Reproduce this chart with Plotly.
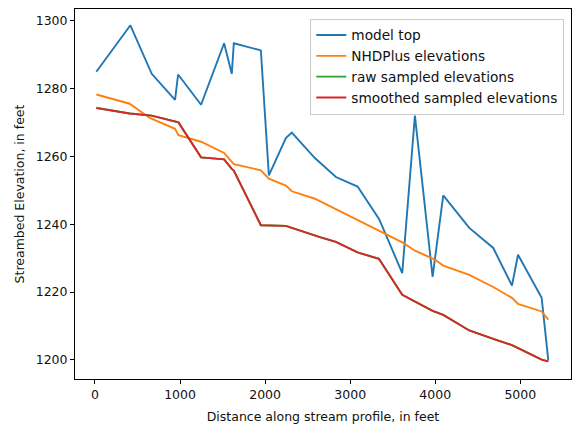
import plotly.graph_objects as go

# model top
top_x = [16, 416, 667, 941, 977, 1247, 1518, 1608, 1632, 1950, 2044, 2244, 2314, 2585, 2832, 3087,
         3341, 3612, 3761, 3969, 4094, 4400, 4682, 4902, 4973, 5251, 5329]
top_y = [1284.9, 1298.6, 1284.3, 1276.6, 1284.1, 1275.2, 1293.3, 1284.3, 1293.3, 1291.2, 1254.4,
         1265.4, 1267.0, 1259.5, 1253.9, 1251.1, 1241.5, 1225.6, 1272.0, 1224.5, 1248.5, 1238.9,
         1233.0, 1221.9, 1231.0, 1218.3, 1199.9]

# NHDPlus elevations
nhd_x = [16, 408, 644, 941, 981, 1247, 1518, 1632, 1950, 2044, 2244, 2314, 2585, 2832, 3087,
         3349, 3624, 3761, 3996, 4094, 4400, 4682, 4902, 4973, 5251, 5329]
nhd_y = [1278.2, 1275.5, 1271.3, 1268.1, 1266.2, 1264.3, 1261.0, 1257.7, 1255.9, 1253.4, 1251.4,
         1249.7, 1247.5, 1244.4, 1241.1, 1237.9, 1234.5, 1232.2, 1229.6, 1227.8, 1225.1, 1221.5,
         1218.3, 1216.5, 1214.3, 1211.9]

# raw and smoothed sampled elevations
samp_x = [16, 408, 667, 941, 981, 1247, 1518, 1608, 1632, 1950, 2244, 2644, 2832, 3087, 3338,
          3612, 3969, 4094, 4400, 4682, 4902, 5251, 5329]
raw_y = [1274.3, 1272.6, 1272.0, 1270.1, 1270.0, 1259.7, 1259.1, 1256.3, 1255.8, 1239.7, 1239.5,
         1236.2, 1234.8, 1231.7, 1229.8, 1219.2, 1214.5, 1213.3, 1208.7, 1206.2, 1204.4, 1200.1, 1199.6]
smooth_y = [1274.2, 1272.6, 1272.0, 1270.1, 1270.0, 1259.7, 1259.1, 1256.3, 1255.8, 1239.7, 1239.5,
            1236.2, 1234.8, 1231.7, 1229.8, 1219.2, 1214.5, 1213.3, 1208.7, 1206.2, 1204.4, 1200.1, 1199.6]

x_ticks = [0, 1000, 2000, 3000, 4000, 5000]
y_ticks = [1200, 1220, 1240, 1260, 1280, 1300]

FONT = "DejaVu Sans"
TXT = "#111"
LW = 1.9

fig = go.Figure()
fig.add_trace(go.Scatter(x=top_x, y=top_y, mode="lines", name="model top",
                         line=dict(color="#1f77b4", width=LW)))
fig.add_trace(go.Scatter(x=nhd_x, y=nhd_y, mode="lines", name="NHDPlus elevations",
                         line=dict(color="#ff7f0e", width=LW)))
fig.add_trace(go.Scatter(x=samp_x, y=raw_y, mode="lines", name="raw sampled elevations",
                         line=dict(color="#2ca02c", width=LW)))
fig.add_trace(go.Scatter(x=samp_x, y=smooth_y, mode="lines", name="smoothed sampled elevations",
                         line=dict(color="#d62728", width=LW)))

axis_common = dict(showgrid=False, zeroline=False, showline=True, linecolor="black", linewidth=1,
                   mirror=True, ticks="outside", ticklen=4, tickwidth=1, tickcolor="black",
                   tickfont=dict(family=FONT, size=12.5, color=TXT))

fig.update_xaxes(range=[-235, 5596], tickvals=x_ticks,
                 title=dict(text="Distance along stream profile, in feet",
                            font=dict(family=FONT, size=12.5, color=TXT), standoff=11),
                 **axis_common)
fig.update_yaxes(range=[1194.4, 1303.4], tickvals=y_ticks,
                 title=dict(text="Streambed Elevation, in feet",
                            font=dict(family=FONT, size=12.5, color=TXT), standoff=8),
                 **axis_common)

# page body has an 8px default margin, so the figure is sized/offset to compensate
fig.update_layout(
    width=572, height=424,
    margin=dict(l=67, r=9, t=1, b=53, autoexpand=False),
    paper_bgcolor="white", plot_bgcolor="white",
    font=dict(family=FONT, size=12.5, color=TXT),
    showlegend=True,
    legend=dict(x=0.9865, y=0.974, xanchor="right", yanchor="top",
                bgcolor="rgba(255,255,255,0.8)", bordercolor="#cccccc", borderwidth=1,
                font=dict(family=FONT, size=13.7, color=TXT), itemwidth=30,
                tracegroupgap=0),
)

fig.write_html("out.html")
